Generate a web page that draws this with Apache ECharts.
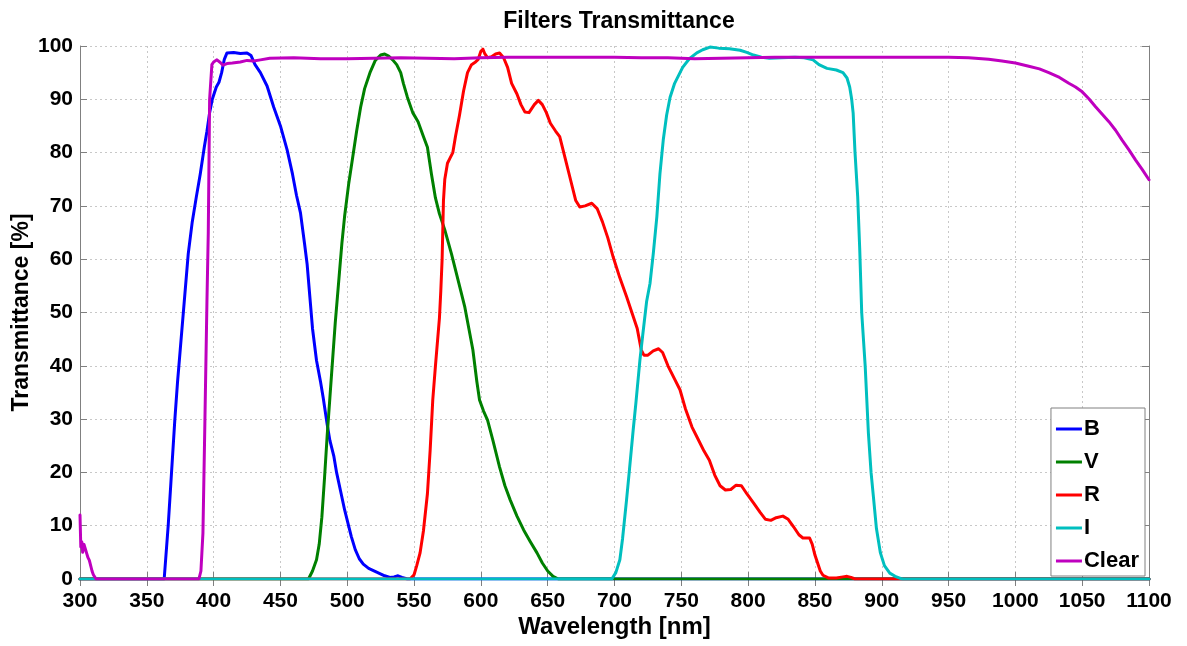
<!DOCTYPE html>
<html>
<head>
<meta charset="utf-8">
<script src="https://cdn.jsdelivr.net/npm/echarts@6/dist/echarts.min.js"></script>
<style>
html,body{margin:0;padding:0;background:#fff;}
#chart{width:1187px;height:646px;}
</style>
</head>
<body>
<div id="chart"></div>
<script>
// ---- Data: [wavelength nm, transmittance %] ----
const seriesNames = ['B', 'V', 'R', 'I', 'Clear'];
const xTicks = [300,350,400,450,500,550,600,650,700,750,800,850,900,950,1000,1050,1100];
const yTicks = [0,10,20,30,40,50,60,70,80,90,100];

const B = [[300,0],[363,0],[366,10],[368,18],[371,30],[373,37],[375,43],[378,52],[381,61],[384,67],[387,71.6],[390,76],[393,81],[395,84],[397,87.5],[399,90],[402,92.3],[404,93.2],[406,95],[408,97.5],[410,98.7],[415,98.8],[420,98.6],[425,98.7],[428,98.2],[431,96.5],[435,95],[440,92.5],[445,88.5],[450,85],[455,80.5],[459,76],[462,72],[465,68.7],[468,63],[470,59],[472,53],[474,47],[477,41],[480,37],[482,34],[485,29],[487,26],[490,23],[492,20],[495,16.5],[498,13],[500,11],[503,8],[506,5.5],[509,3.8],[512,2.8],[516,2],[522,1.3],[528,0.6],[532,0.3],[535,0.4],[538,0.6],[541,0.3],[545,0],[1100,0]];

const V = [[300,0],[471,0],[474,1.5],[477,3.6],[479,6.5],[481,11.6],[483,19],[485,27],[487,34],[489,41],[491,48],[492,51],[494,57],[496,63],[498,68],[501,74],[504,79],[507,84],[510,88.5],[513,92],[517,95],[521,97.3],[525,98.3],[528,98.5],[531,98.1],[534,97.4],[537,96.5],[540,95],[542,93],[545,90.4],[549,87.5],[553,85.8],[557,83],[560,81],[563,76],[566,71.5],[569,68.5],[573,65.5],[578,61],[582,57],[585,54],[588,51],[591,47],[594,43],[597,37],[599,33.6],[602,31.5],[605,29.8],[609,26],[614,21],[618,17.5],[622,14.8],[627,11.8],[632,9.2],[637,7],[642,4.9],[646,3],[650,1.5],[654,0.5],[658,0],[1100,0]];

const R = [[300,0],[547,0],[550,0.8],[552,2.5],[554.5,4.9],[557,9],[560,16],[562,24],[564,33.6],[566,40],[569,49],[570,54],[571,60],[572,71],[573,75],[575,78],[577,79],[579,80],[581,83],[584,87],[587,91.5],[590,95],[593,96.5],[596,97],[598,97.5],[600,99],[601.5,99.4],[603,98.5],[605,97.8],[608,98],[611,98.5],[614,98.7],[617,97.8],[620,96],[623,93],[627,91],[630,89],[633,87.6],[636,87.5],[640,89],[643,89.8],[646,89],[649,87.5],[652,85.5],[656,84],[659,83],[663,79],[667,75],[671,71],[674,69.8],[678,70],[683,70.5],[687,69.5],[691,67],[695,64],[699,60.4],[704,56.5],[709,53],[713,50],[717,47],[720,43],[722,42],[725,42],[729,42.8],[733,43.2],[736,42.5],[740,40],[745,37.5],[749,35.5],[753,32],[758,28.5],[762,26.5],[767,24],[771,22.3],[775,19.5],[779,17.5],[783,16.7],[787,16.8],[791,17.6],[795,17.5],[799,16],[804,14.3],[809,12.5],[813,11.2],[817,11],[821,11.5],[826,11.8],[830,11.2],[834,9.8],[838,8.3],[841,7.7],[846,7.7],[848,6.5],[850,4.5],[852,3],[854,1.5],[856,0.7],[860,0.2],[866,0.2],[871,0.4],[874,0.5],[877,0.3],[880,0],[1100,0]];

const I = [[300,0],[698,0],[701,1.2],[704,3.6],[706,7.5],[709,14.8],[711,20],[714,28],[716,33],[719,41],[721,45.5],[724,52],[726.6,55.5],[729,61],[731.7,68],[734,76],[736.5,82.4],[739,87],[741.6,90.4],[745,93],[751,96],[756,97.6],[761.6,98.7],[766,99.3],[771.5,99.8],[778,99.6],[786,99.5],[794,99.2],[799,98.8],[804,98.3],[810,97.9],[816,97.7],[825,97.8],[835,97.9],[842,97.8],[848.6,97.4],[853,96.5],[859,95.8],[866,95.5],[871,95],[874,94],[876,92.3],[877.5,90],[878.6,87.4],[880,80],[882,71.7],[883.5,62],[885,50],[887.6,40],[890,27.4],[892,20],[894,14.8],[896,9.5],[899,4.9],[902,2.5],[906,1.1],[910,0.5],[914,0.1],[916,0],[1100,0]];

const Clear = [[300,12],[300.6,6],[301.3,7],[302,5],[303,6.5],[304,6.5],[305,4.8],[306,4],[307,3.5],[308,3.2],[309,1.5],[310,0.8],[312,0],[389,0],[390.5,1.5],[392,8.6],[393.5,30],[395,52],[396,65],[397,90],[398.7,96.5],[400,97],[402.5,97.4],[405,96.9],[407,96.4],[410,96.7],[414,96.8],[420,97],[425,97.3],[430,97.2],[435,97.4],[442,97.7],[460,97.8],[480,97.6],[500,97.6],[520,97.7],[540,97.8],[560,97.7],[580,97.6],[600,97.8],[620,97.9],[650,97.9],[680,97.9],[700,97.9],[720,97.8],[740,97.8],[760,97.6],[780,97.7],[800,97.8],[820,97.9],[850,97.9],[880,97.9],[900,97.9],[920,97.9],[950,97.9],[965,97.8],[980,97.5],[990,97.2],[1000,96.8],[1010,96.2],[1018,95.7],[1025,95],[1033,94.1],[1040,93],[1045,92.3],[1050,91.4],[1055,90.1],[1060,88.6],[1065,87.2],[1070,85.8],[1075,84.2],[1080,82.3],[1085,80.5],[1090,78.6],[1095,76.8],[1100,74.9]];

const colors = ['#0000FF', '#008000', '#FF0000', '#00BFBF', '#BF00BF'];
const dataList = [B, V, R, I, Clear];

const FONT = '"Liberation Sans", Arial, Helvetica, sans-serif';
const chart = echarts.init(document.getElementById('chart'), null, {renderer: 'canvas'});

const boxAxisLine = {show: true, lineStyle: {color: '#808080', width: 1}};
const tick = {show: true, inside: true, length: 7, lineStyle: {color: '#808080'}};
const option = {
  animation: false,
  backgroundColor: '#ffffff',
  title: {
    text: 'Filters Transmittance',
    left: 614, top: 5, textAlign: 'center',
    textStyle: {fontFamily: FONT, fontWeight: 'bold', fontSize: 23, color: '#000'}
  },
  grid: {left: 80, right: 38, top: 46, bottom: 67, containLabel: false, outerBoundsMode: 'none'},
  legend: {
    data: seriesNames,
    orient: 'vertical',
    right: 42, top: 408,
    icon: 'rect',
    itemWidth: 26, itemHeight: 3, itemGap: 11,
    padding: [10, 6, 4, 5],
    backgroundColor: '#ffffff',
    borderColor: '#808080', borderWidth: 1,
    textStyle: {fontFamily: FONT, fontWeight: 'bold', fontSize: 22, color: '#000', padding: [0,0,0,-3]}
  },
  xAxis: [{
    type: 'value', min: 300, max: 1100, interval: 50,
    position: 'bottom',
    name: 'Wavelength [nm]', nameLocation: 'middle', nameGap: 36, nameMoveOverlap: false,
    nameTextStyle: {fontFamily: FONT, fontWeight: 'bold', fontSize: 24, color: '#000'},
    axisLine: boxAxisLine,
    axisTick: tick,
    axisLabel: {fontFamily: FONT, fontWeight: 'bold', fontSize: 21, color: '#000', margin: 12,
      formatter: v => xTicks.includes(v) ? String(v) : ''},
    splitLine: {show: true, lineStyle: {color: '#c8c8c8', type: [2, 3], width: 1}}
  }, {
    type: 'value', min: 300, max: 1100, interval: 50,
    position: 'top',
    axisLine: boxAxisLine,
    axisTick: tick,
    axisLabel: {show: false},
    splitLine: {show: false}
  }],
  yAxis: [{
    type: 'value', min: 0, max: 100, interval: 10,
    position: 'left',
    name: 'Transmittance [%]', nameLocation: 'middle', nameGap: 47, nameMoveOverlap: false,
    nameTextStyle: {fontFamily: FONT, fontWeight: 'bold', fontSize: 23, color: '#000'},
    axisLine: boxAxisLine,
    axisTick: tick,
    axisLabel: {fontFamily: FONT, fontWeight: 'bold', fontSize: 21, color: '#000', margin: 7,
      formatter: v => yTicks.includes(v) ? String(v) : ''},
    splitLine: {show: true, lineStyle: {color: '#c8c8c8', type: [2, 3], width: 1}}
  }, {
    type: 'value', min: 0, max: 100, interval: 10,
    position: 'right',
    axisLine: boxAxisLine,
    axisTick: tick,
    axisLabel: {show: false},
    splitLine: {show: false}
  }],
  series: seriesNames.map((name, i) => ({
    name: name,
    type: 'line',
    xAxisIndex: 0, yAxisIndex: 0,
    data: dataList[i],
    symbol: 'none',
    smooth: false,
    color: colors[i],
    lineStyle: {color: colors[i], width: 3, join: 'round', cap: 'round'},
    z: 2 + i
  }))
};
chart.setOption(option);
</script>
</body>
</html>
